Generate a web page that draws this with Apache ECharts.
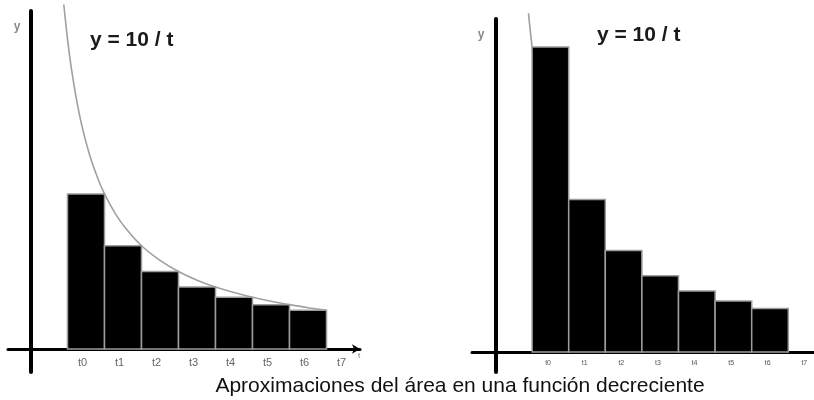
<!DOCTYPE html>
<html>
<head>
<meta charset="utf-8">
<script src="https://cdn.jsdelivr.net/npm/echarts@6/dist/echarts.min.js"></script>
<style>
html, body { margin: 0; padding: 0; background: #fff; }
#chart { width: 814px; height: 400px; }
</style>
</head>
<body>
<div id="chart"></div>
<script>
// Partition points t0..t7 of the interval [1, 8] and their labels
const partition = [1, 2, 3, 4, 5, 6, 7, 8];
const tickLabels = ['t0', 't1', 't2', 't3', 't4', 't5', 't6', 't7'];
// Rectangle heights: lower sum (right endpoints) and upper sum (left endpoints)
const lowerHeights = [5, 3.33, 2.5, 2, 1.67, 1.43, 1.25];
const upperHeights = [10, 5, 3.33, 2.5, 2, 1.67, 1.43];
// Sampled points of the curve y = 10 / t
const curveT = [0.9, 1, 1.1, 1.25, 1.4, 1.6, 1.8, 2, 2.3, 2.6, 3, 3.5, 4, 4.5, 5, 5.5, 6, 6.5, 7, 7.5, 8];
const curveY = [11.11, 10, 9.09, 8, 7.14, 6.25, 5.56, 5, 4.35, 3.85, 3.33, 2.86, 2.5, 2.22, 2, 1.82, 1.67, 1.54, 1.43, 1.33, 1.25];
const formula = 'y = 10 / t';
const yName = 'y';
const tName = 't';
const caption = 'Aproximaciones del área en una función decreciente';

const FONT = '"Liberation Sans", Arial, sans-serif';

function rects(heights) {
  return heights.map((h, i) => [partition[i], partition[i + 1], h]);
}
const curve = curveT.map((t, i) => [t, curveY[i]]);

function renderRect(params, api) {
  const top = api.coord([api.value(0), api.value(2)]);
  const bottom = api.coord([api.value(1), 0]);
  return {
    type: 'rect',
    shape: { x: top[0], y: top[1], width: bottom[0] - top[0], height: bottom[1] - top[1] },
    style: { fill: '#000', stroke: '#9c9c9c', lineWidth: 1.5 }
  };
}

// The y axis runs a little below the t axis, so the labels are pulled
// back up (negative margin) to sit just under the t axis line.
function xAxis(gridIndex, min, max, label, arrow) {
  return {
    type: 'value', gridIndex, min, max,
    splitLine: { show: false },
    axisTick: { show: false },
    axisLine: {
      show: true, onZero: true,
      symbol: arrow ? ['none', 'arrow'] : 'none',
      symbolSize: [7, 8],
      lineStyle: { color: '#000', width: 3 }
    },
    axisLabel: Object.assign({
      customValues: partition,
      formatter: v => tickLabels[partition.indexOf(v)],
      fontFamily: FONT
    }, label)
  };
}

function yAxis(gridIndex, min, max) {
  return {
    type: 'value', gridIndex, min, max,
    splitLine: { show: false },
    axisTick: { show: false },
    axisLabel: { show: false },
    axisLine: { show: true, onZero: true, lineStyle: { color: '#000', width: 4, cap: 'round' } }
  };
}

function curveSeries(idx) {
  return {
    type: 'line', xAxisIndex: idx, yAxisIndex: idx, data: curve,
    showSymbol: false, smooth: 0.3, clip: false, z: 1,
    lineStyle: { color: '#a0a0a0', width: 1.6 }
  };
}

function rectSeries(idx, heights) {
  return {
    type: 'custom', xAxisIndex: idx, yAxisIndex: idx, data: rects(heights),
    renderItem: renderRect, encode: { x: [0, 1], y: 2 }, z: 2
  };
}

const chart = echarts.init(document.getElementById('chart'), null, { renderer: 'canvas' });
chart.setOption({
  animation: false,
  backgroundColor: '#fff',
  grid: [
    { left: 8, top: 11, width: 352, height: 361 },
    { left: 472, top: 19, width: 342, height: 353 }
  ],
  xAxis: [
    xAxis(0, -0.608, 8.905, { color: '#666', fontSize: 11, margin: -15, padding: [0, 0, 0, 30] }, true),
    xAxis(1, -0.642, 8.702, { color: '#555', fontSize: 7, margin: -12, padding: [0, 0, 0, 32] }, false)
  ],
  yAxis: [
    yAxis(0, -0.742, 10.9),
    yAxis(1, -0.656, 10.918)
  ],
  series: [
    curveSeries(0), rectSeries(0, lowerHeights),
    curveSeries(1), rectSeries(1, upperHeights)
  ],
  graphic: [
    { type: 'text', x: 90, y: 40, style: { text: formula, font: 'bold 21px ' + FONT, fill: '#1a1a1a', textVerticalAlign: 'middle' } },
    { type: 'text', x: 597, y: 35, style: { text: formula, font: 'bold 21px ' + FONT, fill: '#1a1a1a', textVerticalAlign: 'middle' } },
    { type: 'text', x: 17, y: 27, style: { text: yName, font: 'bold 12px ' + FONT, fill: '#888', textAlign: 'center', textVerticalAlign: 'middle' } },
    { type: 'text', x: 481, y: 35, style: { text: yName, font: 'bold 12px ' + FONT, fill: '#888', textAlign: 'center', textVerticalAlign: 'middle' } },
    { type: 'text', x: 359, y: 356, style: { text: tName, font: '8px ' + FONT, fill: '#777', textAlign: 'center', textVerticalAlign: 'middle' } },
    { type: 'text', x: 460, y: 386, style: { text: caption, font: '21px ' + FONT, fill: '#111', textAlign: 'center', textVerticalAlign: 'middle' } }
  ]
});
</script>
</body>
</html>
